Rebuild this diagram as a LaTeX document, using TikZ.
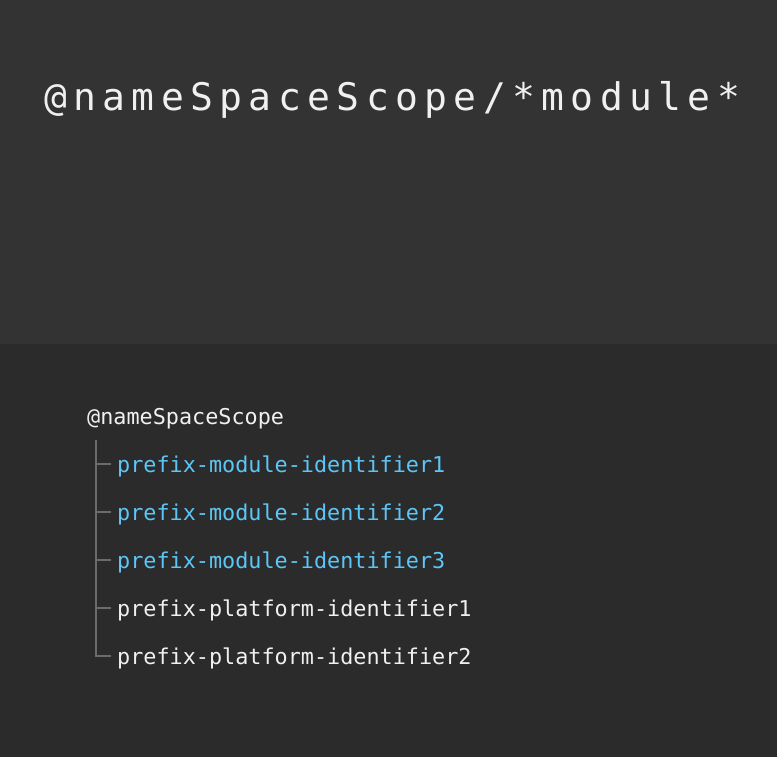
\documentclass[tikz,border=0pt]{standalone}
\usepackage{fontspec}
\usetikzlibrary{calc}
\newfontfamily\codefont{DejaVu Sans Mono}
\newfontfamily\titlefont[LetterSpace=16.8]{DejaVu Sans Mono}
\definecolor{topbg}{HTML}{333333}
\definecolor{botbg}{HTML}{2B2B2B}
\definecolor{modblue}{HTML}{5CC6F7}
\definecolor{plainwhite}{HTML}{F0F0F0}
\definecolor{treeline}{HTML}{6B6B6B}

\tikzset{
    entry/.style={inner sep=0pt, anchor=base west, font=\codefont\fontsize{21.8}{26}\selectfont},
    branch/.style={draw=treeline, line width=1.3pt}
}

\begin{document}
\begin{tikzpicture}[x=1pt, y=-1pt]
\useasboundingbox (0,0) rectangle (777,756);

% --- BACKGROUND ---
\fill[topbg] (-2,-2) rectangle (779,344);
\fill[botbg] (-2,344) rectangle (779,760);

% --- TITLE ---
\node[inner sep=0pt, anchor=base west, text=plainwhite,
      font=\titlefont\fontsize{38}{44}\selectfont] (title) at (44,110)
    {@nameSpaceScope/*module*};

% --- TREE ---
\node[entry, text=plainwhite] (root) at (87,424) {@nameSpaceScope};
\coordinate (trunk) at ($(root.base west)+(9,16)$);

\foreach \name/\txt/\col [count=\i] in {
    mod1/prefix-module-identifier1/modblue,
    mod2/prefix-module-identifier2/modblue,
    mod3/prefix-module-identifier3/modblue,
    plat1/prefix-platform-identifier1/plainwhite,
    plat2/prefix-platform-identifier2/plainwhite} {
    \node[entry, text=\col] (\name) at (117,{424+48*\i}) {\txt};
    % tick from the trunk
    \draw[branch] (trunk) |- ($(\name.base west)+(-6,-8)$);
}

\end{tikzpicture}
\end{document}
